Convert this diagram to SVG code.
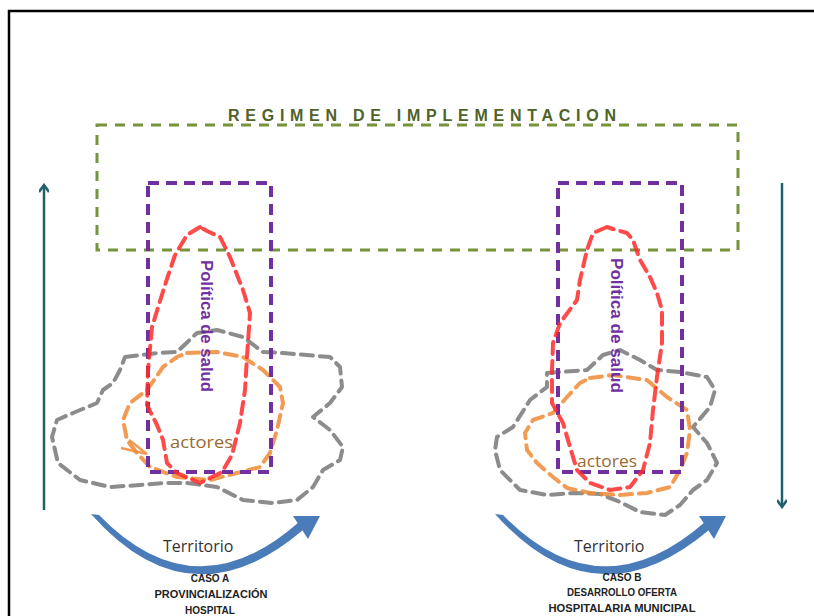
<svg xmlns="http://www.w3.org/2000/svg" width="814" height="616" viewBox="0 0 814 616">
<defs>
<style>
.frame{fill:none;stroke:#000;stroke-width:2.5}
.green{fill:none;stroke:#77933C;stroke-width:3;stroke-dasharray:10 8}
.purple{fill:none;stroke:#7030A0;stroke-width:4;stroke-dasharray:11 7;stroke-linejoin:round}
.red{fill:none;stroke:#FF2A2A;stroke-opacity:0.85;stroke-width:4;stroke-dasharray:12 7;stroke-linejoin:round;stroke-linecap:round}
.gray{fill:none;stroke:#7F7F7F;stroke-opacity:0.9;stroke-width:4;stroke-dasharray:12 7;stroke-linejoin:round;stroke-linecap:round}
.orange{fill:none;stroke:#F08A36;stroke-opacity:0.85;stroke-width:4;stroke-dasharray:12 7;stroke-linejoin:round;stroke-linecap:round}
.axis{fill:none;stroke:#1F5F6E;stroke-width:2.5}
.pol{font-family:"Liberation Sans",Arial,sans-serif;font-size:16px;font-weight:bold;fill:#7030A0}
.act{font-family:"Open Sans","Liberation Sans",sans-serif;font-size:16px;fill:#9A6A2E}
.terr{font-family:"Open Sans","Liberation Sans",sans-serif;font-size:16px;fill:#333}
.cap{font-family:"Liberation Sans",Arial,sans-serif;font-size:10px;font-weight:bold;fill:#222;text-anchor:middle}
.title{font-family:"Liberation Sans",Arial,sans-serif;font-size:16px;font-weight:bold;fill:#4F6228}
.band{fill:#4A7CBA}
</style>
<marker id="ah" markerWidth="10" markerHeight="10" refX="7" refY="5" orient="auto" markerUnits="userSpaceOnUse">
<path d="M1,0 L8,5 L1,10" fill="none" stroke="#1F5F6E" stroke-width="2.5"/>
</marker>
</defs>
<rect width="814" height="616" fill="#fff"/>
<path class="frame" d="M9,616 L9,11 L814,11"/>

<g id="regimen">
<rect class="green" x="97" y="125" width="641" height="125"/>
<text class="title" x="228" y="121" textLength="388" lengthAdjust="spacing">REGIMEN DE  IMPLEMENTACION</text>
</g>

<g id="connectors">
<line class="axis" x1="44" y1="510" x2="44" y2="186" marker-end="url(#ah)"/>
<line class="axis" x1="782" y1="183" x2="782" y2="506" marker-end="url(#ah)"/>
</g>

<g id="casoA">
<path class="gray" d="M125,357 L157,353 L177,352 L197,333 L217,330 L243,337 L263,352 L283,353 L330,357 L340,367 L342,387 L330,403 L313,417 L330,430 L343,447 L340,460 L323,470 L313,487 L297,500 L273,503 L243,500 L217,487 L187,483 L163,483 L140,485 L110,487 L80,480 L58,463 L52,437 L57,420 L73,413 L97,403 L103,390 L113,383 L120,370 Z"/>
<path class="orange" d="M187,353 L217,352 L243,357 L263,370 L280,387 L283,403 L277,430 L270,453 L260,467 L237,473 L210,480 L177,477 L150,467 L137,453 L127,440 L123,420 L130,403 L147,390 L163,367 L177,357 Z"/>
<path d="M121,448 L147,454 M129,440 L147,454" fill="none" stroke="#F08A36" stroke-opacity="0.85" stroke-width="2.5"/>
<rect class="purple" x="148" y="183" width="123" height="289"/>
<path class="red" d="M200,227 L187,235 L175,255 L165,285 L152,327 L148,370 L147,405 L157,425 L163,440 L167,463 L177,473 L200,483 L222,472 L232,455 L240,423 L245,390 L247,357 L250,313 L243,290 L230,257 L220,237 L207,231 Z"/>
<text class="pol" transform="translate(201,260) rotate(90)" textLength="132" lengthAdjust="spacingAndGlyphs">Política de salud</text>
<text class="act" x="170" y="448" textLength="63" lengthAdjust="spacingAndGlyphs">actores</text>
<path class="band" d="M91,514 Q190,626 303,530 L299,522 Q195,614 99,515 Z"/>
<path class="band" d="M293,516 L320,516 L308,539 Z"/>
<text class="terr" x="163" y="552">Territorio</text>
<text class="cap" x="210" y="582">CASO  A</text>
<text class="cap" x="211" y="598" textLength="113" lengthAdjust="spacingAndGlyphs">PROVINCIALIZACIÓN</text>
<text class="cap" x="210" y="614">HOSPITAL</text>
</g>

<g id="casoB">
<path class="gray" d="M547,373 L560,372 L587,370 L603,355 L620,350 L640,360 L657,370 L680,372 L707,377 L715,390 L710,407 L693,427 L707,443 L717,463 L707,480 L693,490 L680,505 L665,515 L640,512 L620,502 L600,494 L575,493 L547,495 L520,490 L500,470 L495,450 L497,437 L513,427 L530,400 L547,387 Z"/>
<path class="orange" d="M590,378 L613,375 L647,380 L667,397 L687,410 L690,430 L687,453 L680,470 L670,487 L647,493 L620,495 L590,493 L567,488 L553,477 L537,463 L527,450 L525,433 L533,420 L553,413 L567,397 L580,383 Z"/>
<rect class="purple" x="558" y="183" width="124" height="289"/>
<path class="red" d="M607,227 L593,233 L587,250 L580,280 L577,300 L560,323 L553,343 L552,370 L552,403 L563,423 L570,447 L577,470 L590,483 L610,490 L630,487 L643,470 L650,443 L653,410 L657,377 L662,343 L662,310 L657,293 L650,277 L640,260 L633,240 L627,233 L613,229 Z"/>
<text class="pol" transform="translate(611,258) rotate(90)" textLength="135" lengthAdjust="spacingAndGlyphs">Política  de salud</text>
<text class="act" x="577" y="467" textLength="60" lengthAdjust="spacingAndGlyphs">actores</text>
<path class="band" d="M495,514 Q595,626 709,530 L705,522 Q600,614 503,515 Z"/>
<path class="band" d="M699,516 L726,516 L714,539 Z"/>
<text class="terr" x="574" y="552">Territorio</text>
<text class="cap" x="622" y="581">CASO  B</text>
<text class="cap" x="622" y="596" textLength="110" lengthAdjust="spacingAndGlyphs">DESARROLLO OFERTA</text>
<text class="cap" x="622" y="612" textLength="147" lengthAdjust="spacingAndGlyphs">HOSPITALARIA MUNICIPAL</text>
</g>
</svg>
